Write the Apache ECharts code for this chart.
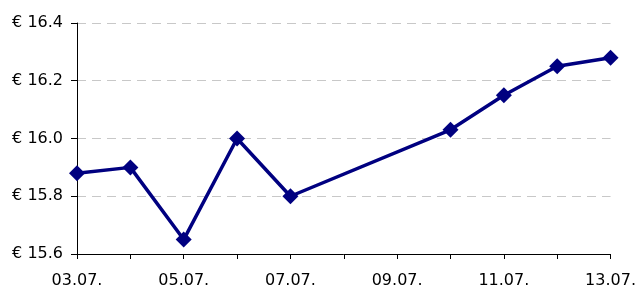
<!DOCTYPE html>
<html>
<head>
<meta charset="utf-8">
<script src="https://cdn.jsdelivr.net/npm/echarts@6/dist/echarts.min.js"></script>
<style>
  html, body { margin: 0; padding: 0; background: #fff; }
  #chart { width: 639px; height: 289px; }
</style>
</head>
<body>
<div id="chart"></div>
<script>
// day of July for each quote, and the price in euro
var days = [3, 4, 5, 6, 7, 10, 11, 12, 13];
var prices = [15.88, 15.90, 15.65, 16.00, 15.80, 16.03, 16.15, 16.25, 16.28];

function pad(n) { return (n < 10 ? '0' : '') + n; }

var seriesData = [];
for (var i = 0; i < days.length; i++) {
    seriesData.push([days[i], prices[i]]);
}

var chart = echarts.init(document.getElementById('chart'));
var option = {
    animation: false,
    textStyle: { fontFamily: 'DejaVu Sans' },
    grid: { left: 77, right: 27, top: 23, bottom: 34 },
    xAxis: {
        type: 'value',
        min: 3,
        max: 13,
        interval: 1,
        axisLine: { lineStyle: { color: '#000', width: 1 } },
        axisTick: { show: true, inside: false, length: 5, lineStyle: { color: '#000' } },
        axisLabel: {
            color: '#000',
            fontSize: 16,
            margin: 19,
            formatter: function (v) {
                return (v % 2 === 1) ? pad(v) + '.07.' : '';
            }
        },
        splitLine: { show: false }
    },
    yAxis: {
        type: 'value',
        min: 15.6,
        max: 16.4,
        interval: 0.2,
        axisLine: { show: true, lineStyle: { color: '#000', width: 1 } },
        axisTick: { show: true, inside: false, length: 6, lineStyle: { color: '#000' } },
        axisLabel: {
            color: '#000',
            fontSize: 16,
            margin: 14,
            formatter: function (v) {
                return '€ ' + v.toFixed(1);
            }
        },
        splitLine: { show: true, lineStyle: { color: '#c8c8c8', type: [9, 6], width: 1 } }
    },
    series: [
        {
            name: 'Kurs',
            type: 'line',
            data: seriesData,
            symbol: 'diamond',
            symbolSize: 16,
            lineStyle: { color: '#000080', width: 3.5 },
            itemStyle: { color: '#000080' }
        }
    ]
};
chart.setOption(option);
</script>
</body>
</html>
